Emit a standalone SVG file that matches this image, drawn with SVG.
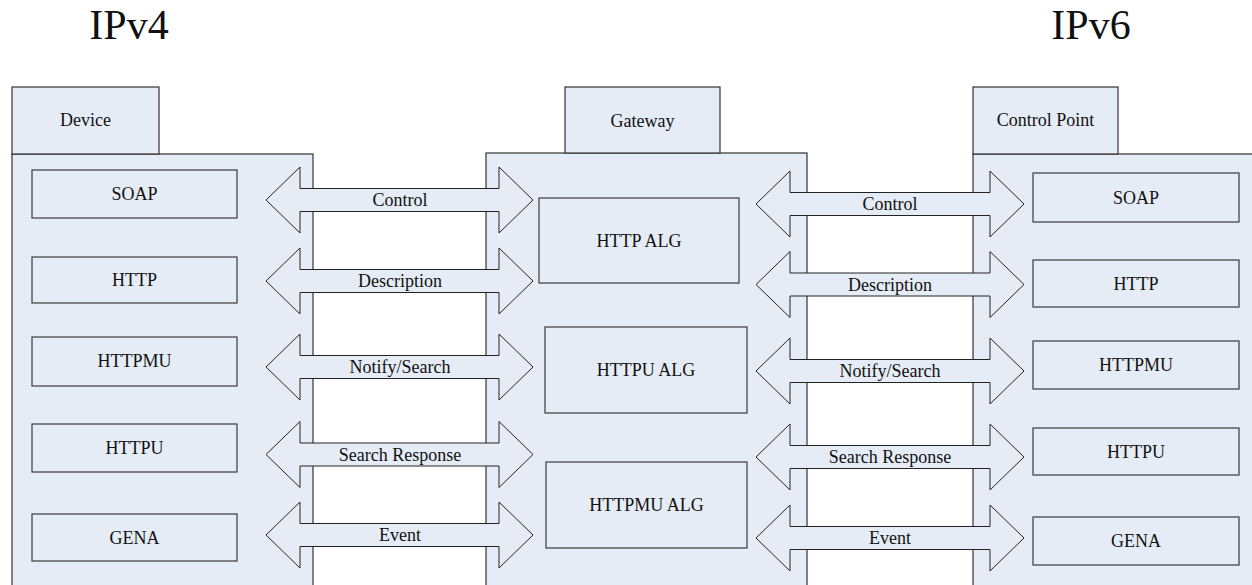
<svg xmlns="http://www.w3.org/2000/svg" width="1252" height="585" viewBox="0 0 1252 585">
<style>
.panel{fill:#e6ecf6;stroke:#333;stroke-width:1.2}
.box{fill:#e6ecf6;stroke:#3a3a3a;stroke-width:1.2}
.arrow{fill:#e6ecf6;stroke:#222;stroke-width:1}
text{font-family:"Liberation Serif","Times New Roman",serif;fill:#111;text-anchor:middle}
.lbl{font-size:18px}
.big{font-size:42px}
</style>
<defs>
<polygon id="arrL" points="266,0 300,-33 300,-11.5 499,-11.5 499,-33 533,0 499,33 499,11.5 300,11.5 300,33"/>
<polygon id="arrR" points="756,0 790,-33 790,-11.5 990,-11.5 990,-33 1024,0 990,33 990,11.5 790,11.5 790,33"/>
</defs>
<rect width="1252" height="585" fill="#fff"/>
<text class="big" x="129" y="39">IPv4</text>
<text class="big" x="1091" y="39">IPv6</text>

<g id="device">
<rect class="panel" x="12" y="154" width="301" height="440"/>
<rect class="panel" x="12" y="87" width="147" height="67"/>
<text class="lbl" x="85.5" y="126">Device</text>
<rect class="box" x="32" y="170" width="205" height="48"/><text class="lbl" x="134.5" y="200">SOAP</text>
<rect class="box" x="32" y="257" width="205" height="46"/><text class="lbl" x="134.5" y="286">HTTP</text>
<rect class="box" x="32" y="337" width="205" height="49"/><text class="lbl" x="134.5" y="367">HTTPMU</text>
<rect class="box" x="32" y="424" width="205" height="48"/><text class="lbl" x="134.5" y="454">HTTPU</text>
<rect class="box" x="32" y="514" width="205" height="47"/><text class="lbl" x="134.5" y="543.5">GENA</text>
</g>

<g id="gateway">
<rect class="panel" x="486" y="153" width="321" height="440"/>
<rect class="panel" x="565" y="87" width="155" height="66"/>
<text class="lbl" x="642.5" y="126.5">Gateway</text>
<rect class="box" x="539" y="198" width="200" height="85"/><text class="lbl" x="639" y="246.5">HTTP ALG</text>
<rect class="box" x="545" y="327" width="202" height="86"/><text class="lbl" x="646" y="376">HTTPU ALG</text>
<rect class="box" x="546" y="462" width="201" height="86"/><text class="lbl" x="646.5" y="511">HTTPMU ALG</text>
</g>

<g id="controlpoint">
<rect class="panel" x="973" y="154" width="290" height="440"/>
<rect class="panel" x="973" y="87" width="145" height="67"/>
<text class="lbl" x="1045.5" y="126">Control Point</text>
<rect class="box" x="1033" y="173" width="206" height="49"/><text class="lbl" x="1136" y="203.5">SOAP</text>
<rect class="box" x="1033" y="260" width="206" height="47"/><text class="lbl" x="1136" y="289.5">HTTP</text>
<rect class="box" x="1033" y="341" width="206" height="48"/><text class="lbl" x="1136" y="371">HTTPMU</text>
<rect class="box" x="1033" y="428" width="206" height="47"/><text class="lbl" x="1136" y="457.5">HTTPU</text>
<rect class="box" x="1033" y="517" width="206" height="48"/><text class="lbl" x="1136" y="547">GENA</text>
</g>

<g id="connectors">
<use href="#arrL" class="arrow" y="200"/><text class="lbl" x="400" y="206">Control</text>
<use href="#arrL" class="arrow" y="281"/><text class="lbl" x="400" y="287">Description</text>
<use href="#arrL" class="arrow" y="367"/><text class="lbl" x="400" y="373">Notify/Search</text>
<use href="#arrL" class="arrow" y="454.5"/><text class="lbl" x="400" y="460.5">Search Response</text>
<use href="#arrL" class="arrow" y="535"/><text class="lbl" x="400" y="541">Event</text>
<use href="#arrR" class="arrow" y="204"/><text class="lbl" x="890" y="210">Control</text>
<use href="#arrR" class="arrow" y="284.5"/><text class="lbl" x="890" y="290.5">Description</text>
<use href="#arrR" class="arrow" y="371"/><text class="lbl" x="890" y="377">Notify/Search</text>
<use href="#arrR" class="arrow" y="457"/><text class="lbl" x="890" y="463">Search Response</text>
<use href="#arrR" class="arrow" y="538"/><text class="lbl" x="890" y="544">Event</text>
</g>
</svg>
